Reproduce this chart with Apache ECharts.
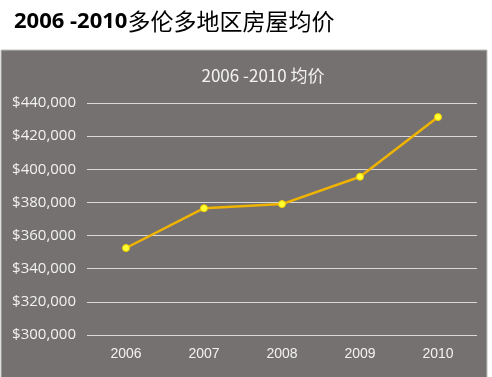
<!DOCTYPE html>
<html>
<head>
<meta charset="utf-8">
<script src="https://cdn.jsdelivr.net/npm/echarts@6/dist/echarts.min.js"></script>
<style>
  html, body { margin: 0; padding: 0; background: #fff; }
  #chart { width: 492px; height: 377px; }
</style>
</head>
<body>
<div id="chart"></div>
<script>
const years = ['2006', '2007', '2008', '2009', '2010']
const prices = [352500, 376500, 379000, 395500, 431500]
const pageTitleNum = '2006 -2010'
const pageTitleText = '多伦多地区房屋均价'
const chartTitle = '2006 -2010 均价'

const chart = echarts.init(document.getElementById('chart'))
const option = {
  animation: false,
  graphic: [{
    type: 'rect',
    shape: { x: 1, y: 50, width: 486, height: 330 },
    style: { fill: '#767171', stroke: '#bfbfbf', lineWidth: 1 },
    z: -1
  }],
  title: [{
    text: '{a|' + pageTitleNum + '}{b|' + pageTitleText + '}',
    left: 9,
    top: 5,
    textStyle: {
      rich: {
        a: { fontSize: 22, fontWeight: 'bold', color: '#000', fontFamily: 'Open Sans' },
        b: { fontSize: 23, fontWeight: 'normal', color: '#000', fontFamily: 'Noto Sans CJK SC' }
      }
    }
  }, {
    text: chartTitle,
    left: 258,
    textAlign: 'center',
    top: 62,
    textStyle: { fontSize: 17, fontWeight: 'normal', color: '#f2f2f2', fontFamily: 'Noto Sans CJK SC' }
  }],
  grid: { left: 87, right: 15, top: 103, bottom: 42 },
  xAxis: {
    type: 'category',
    data: years,
    axisLine: { show: false },
    axisTick: { show: false },
    axisLabel: { color: '#f2f2f2', fontSize: 14, margin: 12, fontFamily: 'Liberation Sans' }
  },
  yAxis: {
    type: 'value',
    min: 300000,
    max: 440000,
    interval: 20000,
    axisLine: { show: false },
    axisTick: { show: false },
    splitLine: { lineStyle: { color: '#d9d9d9', width: 1 } },
    axisLabel: {
      color: '#f2f2f2',
      fontSize: 15,
      margin: 11,
      fontFamily: 'Open Sans',
      formatter: v => '$' + v.toLocaleString('en-US')
    }
  },
  series: [{
    type: 'line',
    data: prices,
    symbol: 'circle',
    symbolSize: 7,
    lineStyle: { color: '#f0b400', width: 2.5 },
    itemStyle: { color: '#ffff33', borderColor: '#f0d000', borderWidth: 1 }
  }]
}
chart.setOption(option)
</script>
</body>
</html>
